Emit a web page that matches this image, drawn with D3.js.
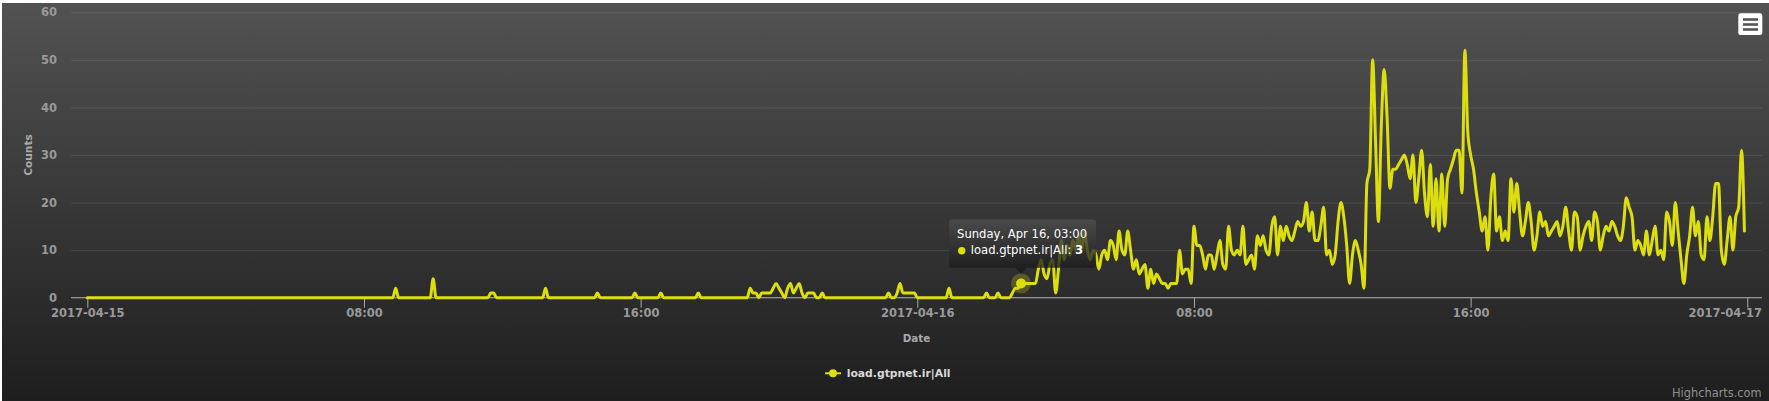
<!DOCTYPE html>
<html><head><meta charset="utf-8">
<script src="https://cdn.jsdelivr.net/npm/d3@7"></script>
<style>html,body{margin:0;padding:0;background:#fff;overflow:hidden}svg{display:block}</style>
</head><body><svg id="c" width="1769" height="401"></svg>
<script>
// ---------------- DATA ----------------
const seriesName = "load.gtpnet.ir|All";
const startTime = Date.UTC(2017, 3, 15, 0, 0);   // 2017-04-15 00:00
const stepMinutes = 5;
// one array per 6 hours, one row per hour (12 points of 5 minutes)
const apr15_00 = [
  0,0,0,0,0,0,0,0,0,0,0,0,
  0,0,0,0,0,0,0,0,0,0,0,0,
  0,0,0,0,0,0,0,0,0,0,0,0,
  0,0,0,0,0,0,0,0,0,0,0,0,
  0,0,0,0,0,0,0,0,0,0,0,0,
  0,0,0,0,0,0,0,0,0,0,0,0];
const apr15_06 = [
  0,0,0,0,0,0,0,0,0,0,0,0,
  0,0,0,0,0,0,0,0,0,0,0,0,
  0,0,0,0,0,0,0,0,0,0,0,2,
  0,0,0,0,0,0,0,0,0,0,0,0,
  4,0,0,0,0,0,0,0,0,0,0,0,
  0,0,0,0,0,0,0,0,1,1,0,0];
const apr15_12 = [
  0,0,0,0,0,0,0,0,0,0,0,0,
  0,0,0,2,0,0,0,0,0,0,0,0,
  0,0,0,0,0,0,0,0,0,1,0,0,
  0,0,0,0,0,0,0,0,0,0,1,0,
  0,0,0,0,0,0,0,1,0,0,0,0,
  0,0,0,0,0,0,0,0,1,0,0,0];
const apr15_18 = [
  0,0,0,0,0,0,0,0,0,0,0,0,
  0,0,2,1,1,0,1,1,1,1,2,3,
  2,1,0,2,3,1,2,3,1,0,1,1,
  1,0,0,1,0,0,0,0,0,0,0,0,
  0,0,0,0,0,0,0,0,0,0,0,0,
  0,0,1,0,0,1,3,1,1,1,1,1];
const apr16_00 = [
  0,0,0,0,0,0,0,0,0,0,0,2,
  0,0,0,0,0,0,0,0,0,0,0,0,
  1,0,0,0,1,0,0,0,0,1,2,2,
  3,3,3,3,3,3,6,8,5,4,7,8,
  1,6,12,8,11,9,12,10,13,10,14,10,
  8,10,9,6,9,10,8,12,11,8,14,10];
const apr16_06 = [
  9,14,10,6,8,5,6,7,2,6,3,5,
  4,3,3,2,3,3,3,10,5,6,6,3,
  15,11,11,9,6,9,9,6,9,12,7,6,
  15,10,9,10,9,15,7,8,9,6,13,11,
  13,10,9,15,17,9,15,12,15,13,12,14,
  16,15,16,20,14,18,12,12,15,19,9,10];
const apr16_12 = [
  7,9,16,20,17,11,3,9,12,10,7,2,
  24,27,50,33,16,36,48,38,23,27,27,28,
  29,30,28,25,30,20,25,31,22,17,28,15,
  25,14,26,15,25,27,29,31,31,22,52,35,
  30,27,22,18,14,17,10,21,26,14,17,12,
  14,12,25,18,24,18,13,16,20,16,10,13];
const apr16_18 = [
  18,15,16,13,14,15,16,13,15,19,14,10,
  18,17,10,13,15,16,12,18,16,10,13,15,
  14,16,15,13,12,15,21,19,17,10,12,11,
  9,14,9,12,15,9,10,8,18,16,11,20,
  14,8,3,9,13,19,13,16,9,8,17,12,
  17,24,24,10,7,12,17,10,17,19,31,14];

const yTicks = [0, 10, 20, 30, 40, 50, 60];
const xTickHours = [0, 8, 16, 24, 32, 40, 48];
const xTickLabels = ["2017-04-15", "08:00", "16:00", "2017-04-16", "08:00", "16:00", "2017-04-17"];
const yAxisTitle = "Counts";
const xAxisTitle = "Date";
const hoverIndex = 324;
const creditsText = "Highcharts.com";

// ---------------- BUILD ----------------
const values = [].concat(apr15_00, apr15_06, apr15_12, apr15_18, apr16_00, apr16_06, apr16_12, apr16_18);
const data = values.map((v, i) => ({ t: new Date(startTime + i * stepMinutes * 60000), v }));

const W = 1769, H = 401;
const plotLeft = 71, plotRight = 1762, plotTop = 12.3, plotBottom = 297.7;
const FONT = "'DejaVu Sans', Verdana, sans-serif";
const LINE = "#DDDF0D";

const x = d3.scaleUtc()
  .domain([new Date(startTime), new Date(startTime + 48 * 3600000)])
  .range([87.3, 1747.3]);
const y = d3.scaleLinear().domain([0, 60]).range([plotBottom, plotTop]);

const svg = d3.select("#c");
const defs = svg.append("defs");
const bg = defs.append("linearGradient").attr("id", "bg").attr("x1", 0).attr("y1", 0).attr("x2", 0).attr("y2", 1);
bg.append("stop").attr("offset", 0).attr("stop-color", "rgb(82,82,82)");
bg.append("stop").attr("offset", 1).attr("stop-color", "rgb(30,30,30)");
const tg = defs.append("linearGradient").attr("id", "tg").attr("x1", 0).attr("y1", 0).attr("x2", 0).attr("y2", 1);
tg.append("stop").attr("offset", 0).attr("stop-color", "rgb(80,80,80)").attr("stop-opacity", 0.78);
tg.append("stop").attr("offset", 1).attr("stop-color", "rgb(20,20,20)").attr("stop-opacity", 0.78);

svg.append("rect").attr("width", W).attr("height", H).attr("fill", "#fff");
svg.append("rect").attr("x", 2).attr("y", 3).attr("width", W - 2).attr("height", H - 3).attr("fill", "url(#bg)");

// grid
svg.append("g").attr("transform", `translate(${plotLeft},0)`)
  .call(d3.axisLeft(y).tickValues(yTicks).tickSize(-(plotRight - plotLeft)).tickFormat(""))
  .call(g => g.select(".domain").remove())
  .selectAll("line").attr("stroke", "rgba(255,255,255,0.1)").attr("stroke-width", 1);

// y labels
const yAx = svg.append("g").attr("transform", `translate(${plotLeft},0)`)
  .call(d3.axisLeft(y).tickValues(yTicks).tickSize(0).tickPadding(14));
yAx.select(".domain").remove();
yAx.selectAll("text").attr("font-family", FONT).attr("font-size", "11.5px").attr("font-weight", "bold").attr("fill", "#999");

// x axis
const xTicks = xTickHours.map(h => new Date(startTime + h * 3600000));
const xAx = svg.append("g").attr("transform", `translate(0,${plotBottom})`)
  .call(d3.axisBottom(x).tickValues(xTicks).tickFormat((d, i) => xTickLabels[i]).tickSize(10));
xAx.select(".domain").remove();
xAx.selectAll("line").attr("stroke", "#aaa");
xAx.selectAll("text").attr("font-family", FONT).attr("font-size", "11.5px").attr("font-weight", "bold")
  .attr("fill", "#999").attr("y", 19.6).attr("dy", 0);
xAx.selectAll(".tick").each(function () {
  const t = d3.select(this).select("text");
  const tr = d3.select(this).attr("transform");
  const tx = +tr.match(/translate\(([-\d.]+)/)[1];
  const w = t.node().getComputedTextLength();
  if (tx + w / 2 > plotRight) t.attr("x", plotRight - tx - w / 2);
});
svg.append("line").attr("x1", plotLeft).attr("x2", plotRight).attr("y1", plotBottom).attr("y2", plotBottom)
  .attr("stroke", "#aaa").attr("stroke-width", 1);

// axis titles
svg.append("text").attr("transform", `translate(31.5,${(plotTop + plotBottom) / 2}) rotate(-90)`)
  .attr("text-anchor", "middle").attr("font-family", FONT).attr("font-size", "10.6px").attr("font-weight", "bold")
  .attr("fill", "#aaa").text(yAxisTitle);
svg.append("text").attr("x", (plotLeft + plotRight) / 2).attr("y", 341.5)
  .attr("text-anchor", "middle").attr("font-family", FONT).attr("font-size", "10.4px").attr("font-weight", "bold")
  .attr("fill", "#aaa").text(xAxisTitle);

// series line
const line = d3.line().x(d => x(d.t)).y(d => y(d.v)).curve(d3.curveMonotoneX);
svg.append("path").datum(data).attr("d", line).attr("fill", "none").attr("stroke", LINE)
  .attr("stroke-width", 3).attr("stroke-linejoin", "round").attr("stroke-linecap", "round");

// hover marker
const hp = data[hoverIndex];
const ax = x(hp.t), ay = y(hp.v);
svg.append("circle").attr("cx", ax).attr("cy", ay).attr("r", 10).attr("fill", LINE).attr("fill-opacity", 0.25);
svg.append("circle").attr("cx", ax).attr("cy", ay).attr("r", 5).attr("fill", LINE);

// tooltip
const bx = ax - 72, by = ay - 64, bw = 147, bh = 48.3, r = 3;
const tipY = ay - 10;
const p = d3.path();
p.moveTo(bx + r, by);
p.lineTo(bx + bw - r, by); p.arcTo(bx + bw, by, bx + bw, by + r, r);
p.lineTo(bx + bw, by + bh - r); p.arcTo(bx + bw, by + bh, bx + bw - r, by + bh, r);
p.lineTo(ax + 6, by + bh); p.lineTo(ax, tipY); p.lineTo(ax - 6, by + bh);
p.lineTo(bx + r, by + bh); p.arcTo(bx, by + bh, bx, by + bh - r, r);
p.lineTo(bx, by + r); p.arcTo(bx, by, bx + r, by, r);
p.closePath();
svg.append("path").attr("d", p.toString()).attr("fill", "url(#tg)");
const fmt = d3.utcFormat("%A, %b %d, %H:%M");
svg.append("text").attr("x", bx + 8).attr("y", by + 19).attr("font-family", FONT).attr("font-size", "11.6px")
  .attr("fill", "#fff").text(fmt(hp.t));
svg.append("circle").attr("cx", bx + 12.7).attr("cy", by + 31.3).attr("r", 3.7).attr("fill", LINE);
const t2 = svg.append("text").attr("x", bx + 21.7).attr("y", by + 35).attr("font-family", FONT).attr("font-size", "11.6px").attr("fill", "#fff");
t2.append("tspan").text(seriesName + ": ");
t2.append("tspan").attr("font-weight", "bold").text(hp.v);

// legend
svg.append("line").attr("x1", 825).attr("x2", 841).attr("y1", 373.3).attr("y2", 373.3).attr("stroke", LINE).attr("stroke-width", 2);
svg.append("circle").attr("cx", 833).attr("cy", 373.3).attr("r", 4).attr("fill", LINE);
svg.append("text").attr("x", 846.7).attr("y", 377.3).attr("font-family", FONT).attr("font-size", "10.8px")
  .attr("font-weight", "bold").attr("fill", "#d8d8d8").text(seriesName);

// menu button
svg.append("rect").attr("x", 1738.3).attr("y", 13.3).attr("width", 24).attr("height", 21.7).attr("rx", 2.5).attr("fill", "#fff");
[19.5, 24.5, 29.5].forEach(yy => svg.append("line").attr("x1", 1743).attr("x2", 1758).attr("y1", yy).attr("y2", yy)
  .attr("stroke", "#555").attr("stroke-width", 2.6));

// credits
svg.append("text").attr("x", 1761.7).attr("y", 397.3).attr("text-anchor", "end").attr("font-family", FONT)
  .attr("font-size", "11.4px").attr("fill", "#909090").text(creditsText);
</script></body></html>
